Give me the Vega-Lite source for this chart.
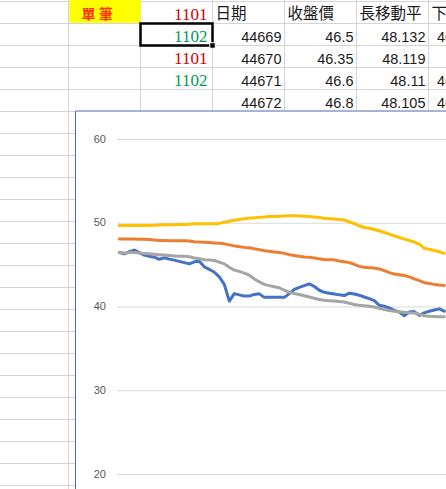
{
  "$schema": "https://vega.github.io/schema/vega-lite/v6.json",
  "width": 446,
  "height": 489,
  "autosize": {"type": "fit", "contains": "padding"},
  "padding": 0,
  "background": "#ffffff",
  "config": {"view": {"stroke": null}},
  "datasets": {
    "vlines": [{"k": 1}, {"k": 2}, {"k": 3}, {"k": 4}, {"k": 5}, {"k": 6}, {"k": 7}],
    "hlines": [{"k": 0}, {"k": 1}, {"k": 2}, {"k": 3}, {"k": 4}, {"k": 5}, {"k": 6}, {"k": 7}, {"k": 8}, {"k": 9}, {"k": 10}, {"k": 11}, {"k": 12}, {"k": 13}, {"k": 14}, {"k": 15}, {"k": 16}, {"k": 17}, {"k": 18}, {"k": 19}, {"k": 20}, {"k": 21}, {"k": 22}],
    "codes": [
      {"right": 3, "bottom": 1, "text": "1101", "code": "1101"},
      {"right": 3, "bottom": 2, "text": "1102", "code": "1102"},
      {"right": 3, "bottom": 3, "text": "1101", "code": "1101"},
      {"right": 3, "bottom": 4, "text": "1102", "code": "1102"}
    ],
    "headers": [
      {"left": 3, "text": "日期"},
      {"left": 4, "text": "收盤價"},
      {"left": 5, "text": "長移動平均"},
      {"left": 6, "text": "下移動平均"}
    ],
    "numbers": [
      {"right": 4, "bottom": 2, "text": "44669"},
      {"right": 4, "bottom": 3, "text": "44670"},
      {"right": 4, "bottom": 4, "text": "44671"},
      {"right": 4, "bottom": 5, "text": "44672"},
      {"right": 5, "bottom": 2, "text": "46.5"},
      {"right": 5, "bottom": 3, "text": "46.35"},
      {"right": 5, "bottom": 4, "text": "46.6"},
      {"right": 5, "bottom": 5, "text": "46.8"},
      {"right": 6, "bottom": 2, "text": "48.132"},
      {"right": 6, "bottom": 3, "text": "48.119"},
      {"right": 6, "bottom": 4, "text": "48.11"},
      {"right": 6, "bottom": 5, "text": "48.105"},
      {"right": 7, "bottom": 2, "text": "46.46667"},
      {"right": 7, "bottom": 3, "text": "46.4"},
      {"right": 7, "bottom": 4, "text": "46.48333"},
      {"right": 7, "bottom": 5, "text": "46.51667"}
    ],
    "grid": [{"v": 20, "label": "20"}, {"v": 30, "label": "30"}, {"v": 40, "label": "40"}, {"v": 50, "label": "50"}, {"v": 60, "label": "60"}],
    "series": [
      {"i": 0, "close": 46.5, "ma_long": 48.132, "ma_mid": 46.5, "upper": 49.73},
      {"i": 1, "close": 46.35, "ma_long": 48.119, "ma_mid": 46.45, "upper": 49.73},
      {"i": 2, "close": 46.6, "ma_long": 48.11, "ma_mid": 46.5, "upper": 49.73},
      {"i": 3, "close": 46.8, "ma_long": 48.105, "ma_mid": 46.5, "upper": 49.73},
      {"i": 4, "close": 46.5, "ma_long": 48.1, "ma_mid": 46.45, "upper": 49.73},
      {"i": 5, "close": 46.2, "ma_long": 48.08, "ma_mid": 46.4, "upper": 49.73},
      {"i": 6, "close": 46.05, "ma_long": 48.05, "ma_mid": 46.35, "upper": 49.73},
      {"i": 7, "close": 45.95, "ma_long": 48.0, "ma_mid": 46.3, "upper": 49.75},
      {"i": 8, "close": 45.7, "ma_long": 47.95, "ma_mid": 46.25, "upper": 49.8},
      {"i": 9, "close": 45.88, "ma_long": 47.93, "ma_mid": 46.2, "upper": 49.82},
      {"i": 10, "close": 45.72, "ma_long": 47.92, "ma_mid": 46.15, "upper": 49.83},
      {"i": 11, "close": 45.6, "ma_long": 47.92, "ma_mid": 46.1, "upper": 49.83},
      {"i": 12, "close": 45.45, "ma_long": 47.9, "ma_mid": 46.05, "upper": 49.84},
      {"i": 13, "close": 45.3, "ma_long": 47.9, "ma_mid": 46.05, "upper": 49.85},
      {"i": 14, "close": 45.15, "ma_long": 47.88, "ma_mid": 46.0, "upper": 49.88},
      {"i": 15, "close": 45.4, "ma_long": 47.8, "ma_mid": 45.85, "upper": 49.93},
      {"i": 16, "close": 45.45, "ma_long": 47.75, "ma_mid": 45.75, "upper": 49.93},
      {"i": 17, "close": 44.8, "ma_long": 47.72, "ma_mid": 45.65, "upper": 49.93},
      {"i": 18, "close": 44.5, "ma_long": 47.7, "ma_mid": 45.6, "upper": 49.93},
      {"i": 19, "close": 44.15, "ma_long": 47.65, "ma_mid": 45.55, "upper": 49.93},
      {"i": 20, "close": 43.6, "ma_long": 47.6, "ma_mid": 45.35, "upper": 49.98},
      {"i": 21, "close": 42.7, "ma_long": 47.54, "ma_mid": 45.15, "upper": 50.13},
      {"i": 22, "close": 40.7, "ma_long": 47.42, "ma_mid": 44.75, "upper": 50.25},
      {"i": 23, "close": 41.6, "ma_long": 47.3, "ma_mid": 44.4, "upper": 50.35},
      {"i": 24, "close": 41.45, "ma_long": 47.2, "ma_mid": 44.25, "upper": 50.45},
      {"i": 25, "close": 41.3, "ma_long": 47.12, "ma_mid": 44.05, "upper": 50.53},
      {"i": 26, "close": 41.3, "ma_long": 47.07, "ma_mid": 43.8, "upper": 50.6},
      {"i": 27, "close": 41.5, "ma_long": 46.95, "ma_mid": 43.35, "upper": 50.65},
      {"i": 28, "close": 41.57, "ma_long": 46.85, "ma_mid": 43.0, "upper": 50.72},
      {"i": 29, "close": 41.15, "ma_long": 46.72, "ma_mid": 42.7, "upper": 50.75},
      {"i": 30, "close": 41.15, "ma_long": 46.65, "ma_mid": 42.55, "upper": 50.8},
      {"i": 31, "close": 41.15, "ma_long": 46.58, "ma_mid": 42.42, "upper": 50.82},
      {"i": 32, "close": 41.15, "ma_long": 46.52, "ma_mid": 42.3, "upper": 50.85},
      {"i": 33, "close": 41.15, "ma_long": 46.4, "ma_mid": 42.0, "upper": 50.88},
      {"i": 34, "close": 41.6, "ma_long": 46.25, "ma_mid": 41.75, "upper": 50.9},
      {"i": 35, "close": 42.1, "ma_long": 46.15, "ma_mid": 41.6, "upper": 50.9},
      {"i": 36, "close": 42.35, "ma_long": 46.05, "ma_mid": 41.5, "upper": 50.88},
      {"i": 37, "close": 42.55, "ma_long": 45.98, "ma_mid": 41.35, "upper": 50.85},
      {"i": 38, "close": 42.77, "ma_long": 45.93, "ma_mid": 41.2, "upper": 50.8},
      {"i": 39, "close": 42.45, "ma_long": 45.85, "ma_mid": 41.05, "upper": 50.75},
      {"i": 40, "close": 42.0, "ma_long": 45.75, "ma_mid": 40.9, "upper": 50.7},
      {"i": 41, "close": 41.75, "ma_long": 45.67, "ma_mid": 40.8, "upper": 50.6},
      {"i": 42, "close": 41.65, "ma_long": 45.65, "ma_mid": 40.76, "upper": 50.55},
      {"i": 43, "close": 41.55, "ma_long": 45.63, "ma_mid": 40.72, "upper": 50.5},
      {"i": 44, "close": 41.45, "ma_long": 45.5, "ma_mid": 40.65, "upper": 50.45},
      {"i": 45, "close": 41.37, "ma_long": 45.4, "ma_mid": 40.6, "upper": 50.4},
      {"i": 46, "close": 41.65, "ma_long": 45.3, "ma_mid": 40.45, "upper": 50.15},
      {"i": 47, "close": 41.55, "ma_long": 45.1, "ma_mid": 40.3, "upper": 49.95},
      {"i": 48, "close": 41.4, "ma_long": 44.85, "ma_mid": 40.2, "upper": 49.7},
      {"i": 49, "close": 41.2, "ma_long": 44.75, "ma_mid": 40.15, "upper": 49.5},
      {"i": 50, "close": 41.0, "ma_long": 44.7, "ma_mid": 40.08, "upper": 49.4},
      {"i": 51, "close": 40.75, "ma_long": 44.65, "ma_mid": 40.0, "upper": 49.25},
      {"i": 52, "close": 40.2, "ma_long": 44.55, "ma_mid": 39.85, "upper": 49.1},
      {"i": 53, "close": 40.1, "ma_long": 44.35, "ma_mid": 39.7, "upper": 48.9},
      {"i": 54, "close": 39.9, "ma_long": 44.1, "ma_mid": 39.58, "upper": 48.7},
      {"i": 55, "close": 39.6, "ma_long": 43.95, "ma_mid": 39.5, "upper": 48.5},
      {"i": 56, "close": 39.4, "ma_long": 43.85, "ma_mid": 39.42, "upper": 48.3},
      {"i": 57, "close": 38.95, "ma_long": 43.76, "ma_mid": 39.38, "upper": 48.1},
      {"i": 58, "close": 39.4, "ma_long": 43.6, "ma_mid": 39.32, "upper": 47.95},
      {"i": 59, "close": 39.45, "ma_long": 43.35, "ma_mid": 39.28, "upper": 47.75},
      {"i": 60, "close": 39.0, "ma_long": 43.15, "ma_mid": 39.15, "upper": 47.5},
      {"i": 61, "close": 39.3, "ma_long": 42.9, "ma_mid": 38.95, "upper": 47.0},
      {"i": 62, "close": 39.5, "ma_long": 42.8, "ma_mid": 38.9, "upper": 46.9},
      {"i": 63, "close": 39.65, "ma_long": 42.7, "ma_mid": 38.87, "upper": 46.75},
      {"i": 64, "close": 39.78, "ma_long": 42.62, "ma_mid": 38.85, "upper": 46.6},
      {"i": 65, "close": 39.5, "ma_long": 42.57, "ma_mid": 38.85, "upper": 46.4}
    ]
  },
  "layer": [
    {
      "layer": [
        {
          "data": {"name": "vlines"},
          "mark": {"type": "rule", "color": "#d4d4d4", "strokeWidth": 1, "clip": true},
          "encoding": {
            "x": {"field": "k", "type": "quantitative", "scale": {"domain": [0.04861, 6.2431], "nice": false, "zero": false}, "axis": null},
            "y": {"datum": -0.1, "type": "quantitative", "scale": {"domain": [-0.06818, 22.159], "reverse": true, "nice": false, "zero": false}, "axis": null},
            "y2": {"datum": 23}
          }
        },
        {
          "data": {"name": "hlines"},
          "mark": {"type": "rule", "color": "#d4d4d4", "strokeWidth": 1, "clip": true},
          "encoding": {
            "y": {"field": "k", "type": "quantitative", "axis": null},
            "x": {"datum": 0, "type": "quantitative", "axis": null},
            "x2": {"datum": 7}
          }
        },
        {
          "data": {"values": [{"cell": "label"}]},
          "mark": {"type": "rect", "fill": "#ffff00", "clip": true},
          "encoding": {
            "x": {"datum": 1.01, "type": "quantitative", "axis": null},
            "x2": {"datum": 2},
            "y": {"datum": -0.1, "type": "quantitative", "axis": null},
            "y2": {"datum": 0.97}
          }
        },
        {
          "data": {"values": [{"text": "單  筆"}]},
          "mark": {"type": "text", "align": "left", "baseline": "alphabetic", "dx": 13, "dy": -5, "font": "Noto Sans CJK TC", "fontWeight": "bold", "fontSize": 14, "color": "#ff3300", "clip": true},
          "encoding": {
            "x": {"datum": 1, "type": "quantitative", "axis": null},
            "y": {"datum": 1, "type": "quantitative", "axis": null},
            "text": {"field": "text"}
          }
        },
        {
          "data": {"name": "codes"},
          "mark": {"type": "text", "align": "right", "baseline": "alphabetic", "dx": -5, "dy": -3.5, "font": "Liberation Serif", "fontSize": 17, "clip": true},
          "encoding": {
            "x": {"field": "right", "type": "quantitative", "axis": null},
            "y": {"field": "bottom", "type": "quantitative", "axis": null},
            "text": {"field": "text"},
            "color": {"field": "code", "type": "nominal", "scale": {"domain": ["1101", "1102"], "range": ["#d40000", "#00985a"]}, "legend": null}
          }
        },
        {
          "data": {"name": "headers"},
          "mark": {"type": "text", "align": "left", "baseline": "alphabetic", "dx": 3, "dy": -5, "font": "Noto Sans CJK TC", "fontSize": 15.5, "color": "#1a1a1a", "limit": 70, "ellipsis": "\u200b", "clip": true},
          "encoding": {
            "x": {"field": "left", "type": "quantitative", "axis": null},
            "y": {"datum": 1, "type": "quantitative", "axis": null},
            "text": {"field": "text"}
          }
        },
        {
          "data": {"name": "numbers"},
          "mark": {"type": "text", "align": "right", "baseline": "alphabetic", "dx": -3, "dy": -3.5, "font": "Liberation Sans", "fontSize": 14.5, "color": "#1a1a1a", "clip": true},
          "encoding": {
            "x": {"field": "right", "type": "quantitative", "axis": null},
            "y": {"field": "bottom", "type": "quantitative", "axis": null},
            "text": {"field": "text"}
          }
        },
        {
          "data": {"values": [{"cell": "selected"}]},
          "mark": {"type": "rect", "fillOpacity": 0, "stroke": "#000000", "strokeWidth": 2.5, "clip": true},
          "encoding": {
            "x": {"datum": 2, "type": "quantitative", "axis": null},
            "x2": {"datum": 3},
            "y": {"datum": 1, "type": "quantitative", "axis": null},
            "y2": {"datum": 2}
          }
        },
        {
          "data": {"values": [{"cell": "handle"}]},
          "mark": {"type": "point", "shape": "square", "filled": true, "size": 30, "color": "#000000", "stroke": "#ffffff", "strokeWidth": 1, "opacity": 1, "clip": true},
          "encoding": {
            "x": {"datum": 3, "type": "quantitative", "axis": null},
            "y": {"datum": 2, "type": "quantitative", "axis": null}
          }
        }
      ]
    },
    {
      "layer": [
        {
          "data": {"values": [{"area": "chart"}]},
          "mark": {"type": "rect", "fill": "#ffffff", "stroke": "#4d6db3", "strokeWidth": 1, "clip": true},
          "encoding": {
            "x": {"datum": -8.76, "type": "quantitative", "scale": {"domain": [-23.86, 65.34], "nice": false, "zero": false}, "axis": null},
            "x2": {"datum": 90},
            "y": {"datum": 63.4, "type": "quantitative", "scale": {"domain": [18.269, 76.657], "nice": false, "zero": false}, "axis": null},
            "y2": {"datum": 0}
          }
        },
        {
          "data": {"name": "grid"},
          "mark": {"type": "rule", "color": "#d9d9d9", "strokeWidth": 1, "clip": true},
          "encoding": {
            "y": {"field": "v", "type": "quantitative", "axis": null},
            "x": {"datum": -0.46, "type": "quantitative", "axis": null},
            "x2": {"datum": 90}
          }
        },
        {
          "data": {"name": "grid"},
          "mark": {"type": "text", "align": "right", "baseline": "middle", "font": "Liberation Sans", "fontSize": 11, "color": "#595959", "clip": true},
          "encoding": {
            "y": {"field": "v", "type": "quantitative", "axis": null},
            "x": {"datum": -2.66, "type": "quantitative", "axis": null},
            "text": {"field": "label"}
          }
        },
        {
          "data": {"name": "series"},
          "transform": [{"fold": ["close", "ma_long", "ma_mid", "upper"], "as": ["series", "v"]}],
          "mark": {"type": "line", "strokeWidth": 3, "strokeCap": "round", "strokeJoin": "round", "clip": true},
          "encoding": {
            "x": {"field": "i", "type": "quantitative", "axis": null},
            "y": {"field": "v", "type": "quantitative", "axis": null},
            "color": {"field": "series", "type": "nominal", "scale": {"domain": ["close", "ma_long", "ma_mid", "upper"], "range": ["#4472C4", "#ED7D31", "#A5A5A5", "#FFC000"]}, "legend": null},
            "order": {"field": "i", "type": "quantitative"}
          }
        }
      ]
    }
  ],
  "resolve": {"scale": {"x": "independent", "y": "independent", "color": "independent"}}
}
